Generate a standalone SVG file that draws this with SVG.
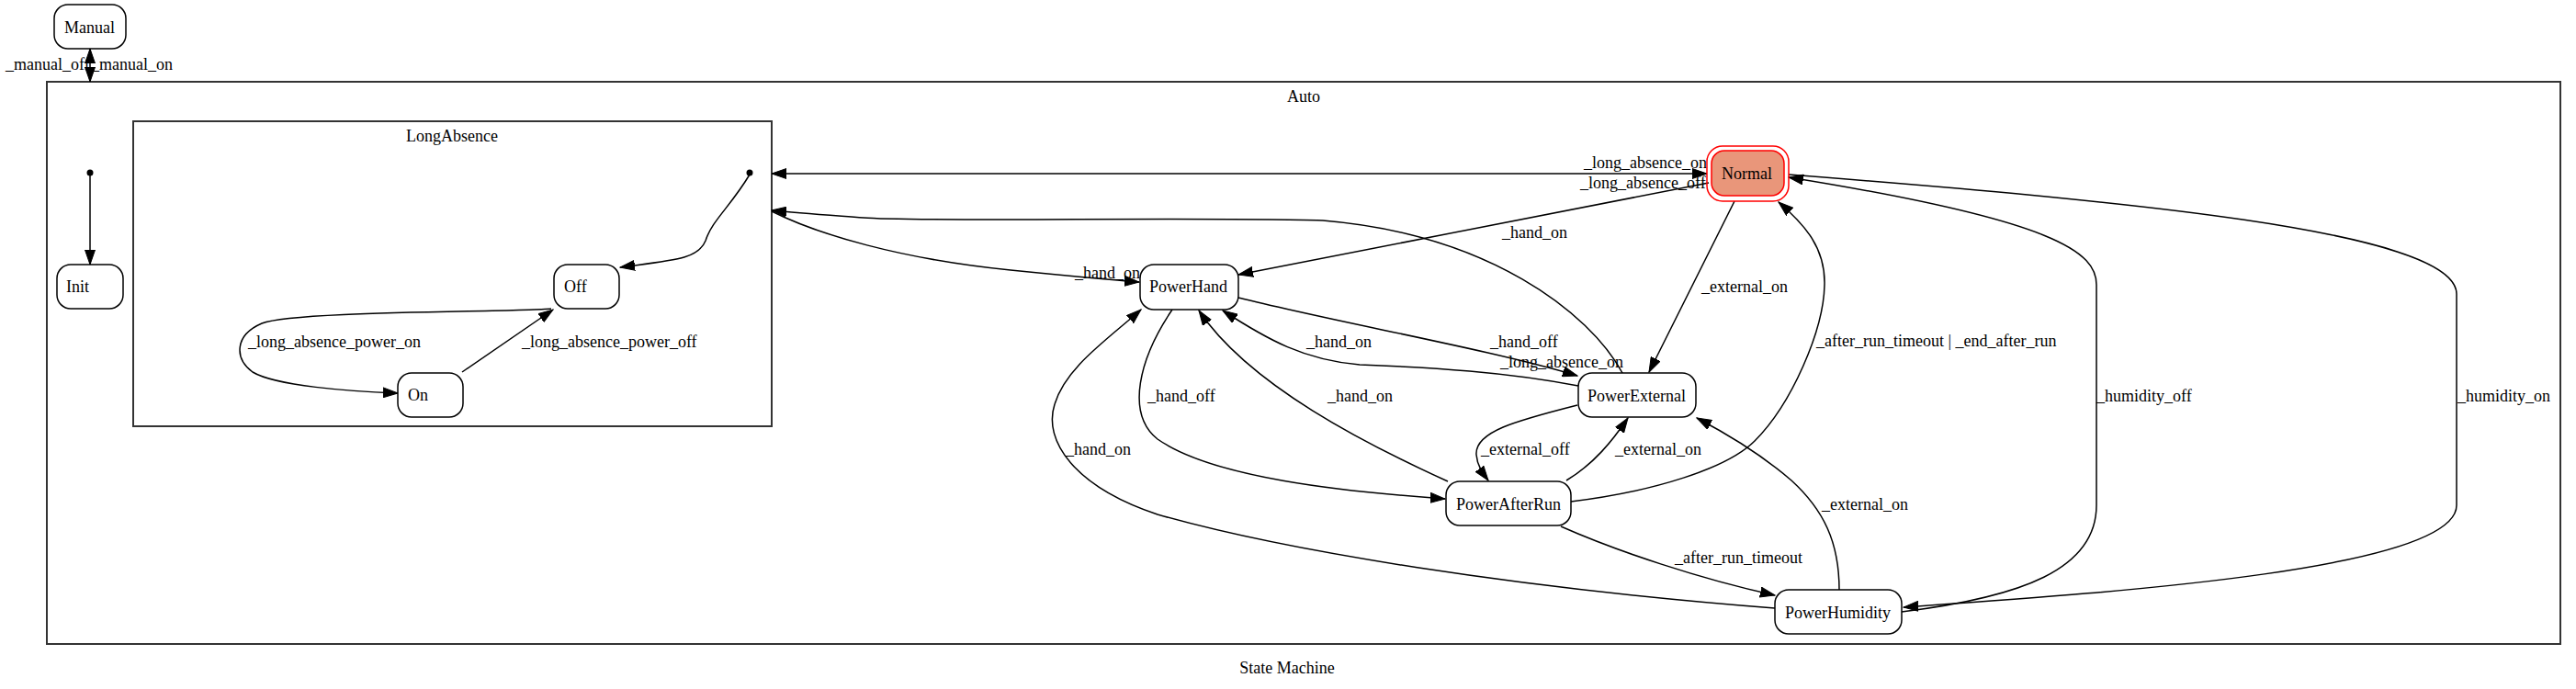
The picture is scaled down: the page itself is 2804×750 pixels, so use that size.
<svg xmlns="http://www.w3.org/2000/svg" width="2804" height="750" viewBox="0 0 2804 750">
<style>
text{font-family:"Liberation Serif","Times New Roman",serif;font-size:18px;fill:#000}
.node{fill:#fff;stroke:#000;stroke-width:1.5}
.cluster{fill:none;stroke:#333;stroke-width:2}
.edge{fill:none;stroke:#000;stroke-width:1.5}
.mid{text-anchor:middle}
</style>
<defs>
<marker id="arr" markerUnits="userSpaceOnUse" markerWidth="17" markerHeight="12" refX="16" refY="6" orient="auto-start-reverse" viewBox="0 0 17 12">
<path d="M0,0.5 L16,6 L0,11.5 z" fill="#000" stroke="#000" stroke-width="1"/>
</marker>
</defs>
<rect width="2804" height="750" fill="#fff"/>
<g id="cluster-auto">
<rect class="cluster" x="51" y="89" width="2736" height="612"/>
<text class="mid" x="1419" y="111">Auto</text>
</g>
<g id="cluster-longabsence">
<rect class="cluster" x="145" y="132" width="695" height="332"/>
<text class="mid" x="492" y="154">LongAbsence</text>
</g>
<g id="connectors">
<path class="edge" d="M98,53 L98,89" marker-start="url(#arr)" marker-end="url(#arr)"/>
<path class="edge" d="M98,188 L98,288" marker-end="url(#arr)"/>
<path class="edge" d="M816,190 C795,225 775,240 768,262 C760,282 735,283 675,291" marker-end="url(#arr)"/>
<path class="edge" d="M600,336 C560,340 320,338 285,352 C255,365 255,390 275,405 C300,420 380,426 433,428" marker-end="url(#arr)"/>
<path class="edge" d="M503,405 L602,337" marker-end="url(#arr)"/>
<path class="edge" d="M840,189 L1858,189" stroke-width="2" marker-start="url(#arr)" marker-end="url(#arr)"/>
<path class="edge" d="M1766,406 C1730,340 1620,255 1440,240 C1300,236 1000,242 940,237 C900,234 870,232 840,229" marker-end="url(#arr)"/>
<path class="edge" d="M840,230 C890,255 980,282 1100,294 C1160,300 1200,304 1240,307" marker-end="url(#arr)"/>
<path class="edge" d="M1860,199 L1348,299" marker-end="url(#arr)"/>
<path class="edge" d="M1888,219 L1795,405" marker-end="url(#arr)"/>
<path class="edge" d="M1348,324 C1460,352 1620,380 1717,409" marker-end="url(#arr)"/>
<path class="edge" d="M1718,420 C1640,405 1560,400 1480,397 C1420,392 1380,370 1331,338" marker-end="url(#arr)"/>
<path class="edge" d="M1276,337 C1240,390 1225,450 1260,478 C1320,520 1460,535 1573,543" marker-end="url(#arr)"/>
<path class="edge" d="M1576,524 C1490,485 1360,420 1305,338" marker-end="url(#arr)"/>
<path class="edge" d="M1717,441 C1650,458 1605,470 1607,495 C1608,507 1614,515 1620,523" marker-end="url(#arr)"/>
<path class="edge" d="M1705,523 C1735,505 1755,480 1772,455" marker-end="url(#arr)"/>
<path class="edge" d="M1710,546 C1800,535 1880,510 1910,480 C1950,440 1985,360 1986,310 C1987,270 1965,245 1936,220" marker-end="url(#arr)"/>
<path class="edge" d="M1699,573 C1760,600 1850,630 1932,648" marker-end="url(#arr)"/>
<path class="edge" d="M1932,662 C1650,640 1400,600 1260,560 C1170,530 1135,480 1148,440 C1160,400 1205,370 1242,337" marker-end="url(#arr)"/>
<path class="edge" d="M2002,642 C2002,590 1985,555 1950,523 C1920,497 1885,475 1847,455" marker-end="url(#arr)"/>
<path class="edge" d="M2070,666 C2200,650 2282,620 2282,550 L2282,310 C2282,275 2240,240 1947,193" marker-end="url(#arr)"/>
<path class="edge" d="M1947,190 C2300,218 2674,250 2674,320 L2674,550 C2674,620 2300,645 2072,661" marker-end="url(#arr)"/>
<circle cx="98" cy="188" r="3.5" fill="#000"/>
<circle cx="816" cy="188" r="3.5" fill="#000"/>
<text x="6" y="76">_manual_off</text>
<text x="99" y="76">_manual_on</text>
<text x="270" y="378">_long_absence_power_on</text>
<text x="568" y="378">_long_absence_power_off</text>
<text x="1724" y="183">_long_absence_on</text>
<text x="1720" y="205">_long_absence_off</text>
<text x="1635" y="259">_hand_on</text>
<text x="1852" y="318">_external_on</text>
<text x="1170" y="303">_hand_on</text>
<text x="1622" y="378">_hand_off</text>
<text x="1422" y="378">_hand_on</text>
<text x="1633" y="400">_long_absence_on</text>
<text x="1249" y="437">_hand_off</text>
<text x="1445" y="437">_hand_on</text>
<text x="1160" y="495">_hand_on</text>
<text x="1612" y="495">_external_off</text>
<text x="1758" y="495">_external_on</text>
<text x="1977" y="377">_after_run_timeout | _end_after_run</text>
<text x="1823" y="613">_after_run_timeout</text>
<text x="1983" y="555">_external_on</text>
<text x="2282" y="437">_humidity_off</text>
<text x="2675" y="437">_humidity_on</text>
</g>
<g id="node-manual">
<rect class="node" x="59" y="5" width="78" height="48" rx="15"/>
<text x="70" y="36">Manual</text>
</g>
<g id="node-init">
<rect class="node" x="62" y="288" width="72" height="48" rx="15"/>
<text x="72" y="318">Init</text>
</g>
<g id="node-off">
<rect class="node" x="603" y="288" width="71" height="48" rx="15"/>
<text x="614" y="318">Off</text>
</g>
<g id="node-on">
<rect class="node" x="433" y="406" width="71" height="48" rx="15"/>
<text x="444" y="436">On</text>
</g>
<g id="node-normal">
<rect x="1858" y="159" width="89" height="60" rx="17" fill="none" stroke="#ff0000" stroke-width="1.5"/>
<rect x="1863" y="164" width="79" height="49" rx="14" fill="#e9967a" stroke="#ff0000" stroke-width="1.5"/>
<text x="1874" y="195">Normal</text>
</g>
<g id="node-powerhand">
<rect class="node" x="1241" y="288" width="107" height="49" rx="15"/>
<text x="1251" y="318">PowerHand</text>
</g>
<g id="node-powerexternal">
<rect class="node" x="1718" y="406" width="128" height="48" rx="15"/>
<text x="1728" y="437">PowerExternal</text>
</g>
<g id="node-powerafterrun">
<rect class="node" x="1574" y="524" width="136" height="48" rx="15"/>
<text x="1585" y="555">PowerAfterRun</text>
</g>
<g id="node-powerhumidity">
<rect class="node" x="1932" y="642" width="138" height="48" rx="15"/>
<text x="1943" y="673">PowerHumidity</text>
</g>
<text class="mid" x="1401" y="733">State Machine</text>
</svg>
